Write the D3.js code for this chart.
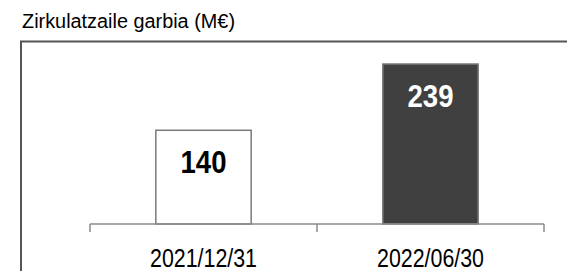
<!DOCTYPE html>
<html>
<head>
<meta charset="utf-8">
<script src="https://cdn.jsdelivr.net/npm/d3@7"></script>
<style>
html,body{margin:0;padding:0;background:#fff;}
svg{display:block;}
</style>
</head>
<body>
<svg id="chart" width="567" height="271"></svg>
<script>
const title = "Zirkulatzaile garbia (M€)";
const categories = ["2021/12/31", "2022/06/30"];
const values = [140, 239];
const barFills = ["#ffffff", "#404040"];
const labelColors = ["#000000", "#ffffff"];

const svg = d3.select("#chart");
const font = "'Liberation Sans Narrow','Arial Narrow','Liberation Sans',Arial,sans-serif";

// frame
svg.append("rect")
  .attr("x", 21).attr("y", 41.5)
  .attr("width", 600).attr("height", 300)
  .attr("fill", "none").attr("stroke", "#555").attr("stroke-width", 2);

// title
svg.append("text")
  .attr("x", 22).attr("y", 27.7)
  .attr("font-family", "'Liberation Sans',Arial,sans-serif")
  .attr("font-size", 20)
  .attr("textLength", 213).attr("lengthAdjust", "spacingAndGlyphs")
  .attr("fill", "#000")
  .text(title);

const x = d3.scaleBand().domain(categories).range([90, 544])
  .paddingInner(0.58).paddingOuter(0.29);
const y = d3.scaleLinear().domain([0, 239]).range([224, 64]);

// bars
svg.selectAll("rect.bar").data(values).enter().append("rect")
  .attr("class", "bar")
  .attr("x", (d, i) => x(categories[i]))
  .attr("y", d => y(d))
  .attr("width", x.bandwidth())
  .attr("height", d => y(0) - y(d))
  .attr("fill", (d, i) => barFills[i])
  .attr("stroke", "#7a7a7a").attr("stroke-width", 1.5);

// axis
const axis = svg.append("g").attr("transform", `translate(0,${y(0)})`);
axis.append("line").attr("x1", 90).attr("x2", 544).attr("y1", 0).attr("y2", 0)
  .attr("stroke", "#8a8a8a").attr("stroke-width", 1.5);
const tickPos = [90, ...categories.map(c => x(c) + x.bandwidth() / 2 + x.step() / 2)];
axis.selectAll("line.tick").data(tickPos).enter().append("line")
  .attr("class", "tick")
  .attr("x1", d => d).attr("x2", d => d).attr("y1", 0).attr("y2", 8)
  .attr("stroke", "#8a8a8a").attr("stroke-width", 1.5);

axis.selectAll("text.cat").data(categories).enter().append("text")
  .attr("class", "cat")
  .attr("x", d => x(d) + x.bandwidth() / 2)
  .attr("y", 42.5)
  .attr("text-anchor", "middle")
  .attr("font-family", font)
  .attr("font-size", 25)
  .attr("textLength", 107).attr("lengthAdjust", "spacingAndGlyphs")
  .attr("fill", "#000")
  .text(d => d);

// value labels
svg.selectAll("text.val").data(values).enter().append("text")
  .attr("class", "val")
  .attr("x", (d, i) => x(categories[i]) + x.bandwidth() / 2)
  .attr("y", (d, i) => i === 0 ? 173.2 : 106.5)
  .attr("text-anchor", "middle")
  .attr("font-family", font)
  .attr("font-weight", "bold")
  .attr("font-size", 31)
  .attr("textLength", 46).attr("lengthAdjust", "spacingAndGlyphs")
  .attr("fill", (d, i) => labelColors[i])
  .text(d => d);
</script>
</body>
</html>
